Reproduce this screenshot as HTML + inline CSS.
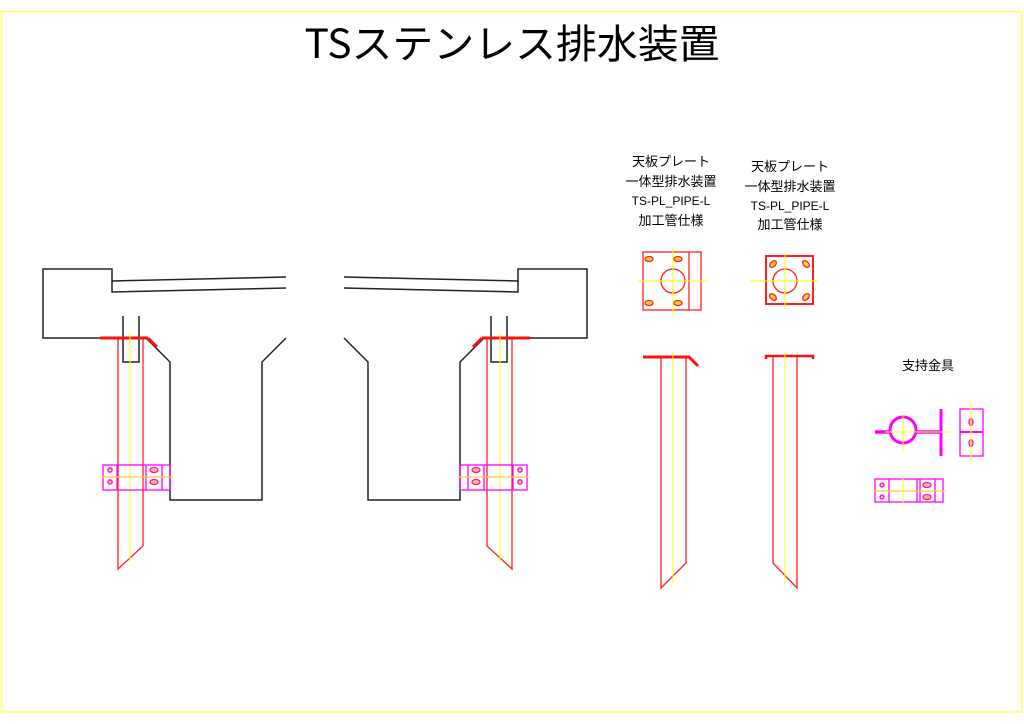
<!DOCTYPE html>
<html><head><meta charset="utf-8"><style>
html,body{margin:0;padding:0;background:#fff;}
svg{display:block;}
</style></head><body>
<svg width="1024" height="724" viewBox="0 0 1024 724" xmlns="http://www.w3.org/2000/svg">
<rect x="1.5" y="11.5" width="1020" height="700.5" fill="none" stroke="#ffff66" stroke-width="1.5"/>
<text x="512" y="58" text-anchor="middle" font-family="'Noto Sans CJK JP','Liberation Sans',sans-serif" font-size="40" textLength="415" lengthAdjust="spacingAndGlyphs" fill="#000">TSステンレス排水装置</text>

<defs>
<g id="girder">
  <g fill="none" stroke="#222" stroke-width="1.5">
    <polyline points="100,338 43,338 43,269 112,269 112,292 286,288"/>
    <line x1="112" y1="281" x2="286" y2="277"/>
    <polyline points="146,338 170,362 170,500 262,500 262,362 286,338"/>
    <polyline points="123,316 123,362 139,362 139,316"/>
  </g>
  <g fill="none" stroke="#ff2020" stroke-width="1.3">
    <polyline points="118,338 118,569 143,546 143,338"/>
  </g>
  <line x1="100" y1="338" x2="148" y2="338" stroke="#ff1010" stroke-width="3"/>
  <line x1="148" y1="338" x2="157" y2="347" stroke="#ff1010" stroke-width="3"/>
  <line x1="130" y1="333" x2="130" y2="562" stroke="#ffff00" stroke-width="1"/>
  <g fill="none" stroke="#ff00ff" stroke-width="1.3">
    <rect x="103" y="465" width="67" height="25"/>
    <line x1="103" y1="477" x2="170" y2="477"/>
    <line x1="117" y1="465" x2="117" y2="490"/>
    <line x1="146" y1="465" x2="146" y2="490"/>
    <line x1="162" y1="465" x2="162" y2="490"/>
    <ellipse cx="154" cy="470" rx="4" ry="2.5" fill="#ffd040"/>
    <ellipse cx="154" cy="482" rx="4" ry="2.5" fill="#ffd040"/>
    <circle cx="110" cy="470" r="2.2" fill="#ffd040"/>
    <circle cx="110" cy="482" r="2.2" fill="#ffd040"/>
  </g>
  <line x1="100" y1="477" x2="173" y2="477" stroke="#ffff00" stroke-width="1"/>
</g>
</defs>
<use href="#girder"/>
<use href="#girder" transform="translate(630,0) scale(-1,1)"/>

<g font-family="'Liberation Sans','Noto Sans CJK JP',sans-serif" fill="#000" text-anchor="middle">
  <text x="671" y="166" font-size="13">天板プレート</text>
  <text x="671" y="186" font-size="13">一体型排水装置</text>
  <text x="671" y="205" font-size="12">TS-PL_PIPE-L</text>
  <text x="671" y="225" font-size="13">加工管仕様</text>
  <text x="790" y="171" font-size="13">天板プレート</text>
  <text x="790" y="191" font-size="13">一体型排水装置</text>
  <text x="790" y="210" font-size="12">TS-PL_PIPE-L</text>
  <text x="790" y="229" font-size="13">加工管仕様</text>
  <text x="928" y="370" font-size="13">支持金具</text>
</g>

<!-- plate 1 -->
<g fill="none" stroke="#ff2020" stroke-width="1.3">
  <rect x="643" y="252" width="58" height="58"/>
  <line x1="689" y1="252" x2="689" y2="310"/>
  <circle cx="673" cy="281" r="12"/>
  <g fill="#ffd040"><ellipse cx="649" cy="259" rx="4" ry="2.5"/><ellipse cx="678" cy="259" rx="4" ry="2.5"/>
  <ellipse cx="649" cy="303" rx="4" ry="2.5"/><ellipse cx="678" cy="303" rx="4" ry="2.5"/></g>
</g>
<g stroke="#ffff00" stroke-width="1"><line x1="638" y1="281" x2="707" y2="281"/><line x1="673" y1="248" x2="673" y2="315"/></g>
<!-- plate 2 -->
<g fill="none" stroke="#ff2020" stroke-width="2">
  <rect x="766" y="256" width="47" height="48"/>
  <circle cx="785" cy="281" r="12" stroke-width="1.3"/>
  <g fill="#ffd040" stroke-width="1.3">
  <ellipse cx="773" cy="264" rx="4" ry="2.5" transform="rotate(-45 773 264)"/>
  <ellipse cx="806" cy="264" rx="4" ry="2.5" transform="rotate(45 806 264)"/>
  <ellipse cx="773" cy="297" rx="4" ry="2.5" transform="rotate(45 773 297)"/>
  <ellipse cx="806" cy="297" rx="4" ry="2.5" transform="rotate(-45 806 297)"/></g>
</g>
<g stroke="#ffff00" stroke-width="1"><line x1="750" y1="281" x2="818" y2="281"/><line x1="785" y1="252" x2="785" y2="309"/></g>

<!-- pipe 1 -->
<polyline points="661,357 661,588 686,563 686,357" fill="none" stroke="#ff2020" stroke-width="1.3"/>
<polyline points="643,357 689,357 698,366" fill="none" stroke="#ff1010" stroke-width="3"/>
<line x1="673" y1="352" x2="673" y2="583" stroke="#ffff00" stroke-width="1"/>
<!-- pipe 2 -->
<polyline points="773,357 773,563 797,588 797,357" fill="none" stroke="#ff2020" stroke-width="1.3"/>
<polyline points="766,359 766,356 813,356 813,359" fill="none" stroke="#ff1010" stroke-width="2.5"/>
<line x1="785" y1="351" x2="785" y2="583" stroke="#ffff00" stroke-width="1"/>

<!-- support fittings -->
<g fill="none" stroke="#ff00ff">
  <circle cx="903" cy="430" r="13" stroke-width="3"/>
  <line x1="875" y1="432" x2="890" y2="432" stroke-width="3.5"/>
  <line x1="916" y1="432" x2="941" y2="432" stroke-width="3.5"/>
  <line x1="941" y1="409" x2="941" y2="456" stroke-width="3"/>
  <rect x="960" y="409" width="23" height="47" stroke-width="1.3"/>
  <line x1="960" y1="432" x2="983" y2="432" stroke-width="2"/>
  <ellipse cx="971" cy="422" rx="2" ry="3.5" stroke-width="1.3" fill="#ffd040"/>
  <ellipse cx="971" cy="443" rx="2" ry="3.5" stroke-width="1.3" fill="#ffd040"/>
  <rect x="875" y="479" width="68" height="23" stroke-width="1.3"/>
  <line x1="875" y1="491" x2="943" y2="491" stroke-width="1.3"/>
  <line x1="889" y1="479" x2="889" y2="502" stroke-width="1.3"/>
  <line x1="917" y1="479" x2="917" y2="502" stroke-width="1.3"/>
  <line x1="920" y1="479" x2="920" y2="502" stroke-width="1.3"/>
  <line x1="935" y1="479" x2="935" y2="502" stroke-width="1.3"/>
  <ellipse cx="927" cy="485" rx="4" ry="2.5" stroke-width="1.3" fill="#ffd040"/>
  <ellipse cx="927" cy="497" rx="4" ry="2.5" stroke-width="1.3" fill="#ffd040"/>
  <circle cx="882" cy="485" r="2" stroke-width="1.3" fill="#ffd040"/>
  <circle cx="882" cy="497" r="2" stroke-width="1.3" fill="#ffd040"/>
</g>
<g stroke="#ffff00" stroke-width="1">
  <line x1="885" y1="432" x2="950" y2="432"/>
  <line x1="903" y1="413" x2="903" y2="452"/>
  <line x1="971" y1="405" x2="971" y2="460"/>
  <line x1="872" y1="491" x2="946" y2="491"/>
  <line x1="903" y1="476" x2="903" y2="505"/>
</g>
</svg>
</body></html>
